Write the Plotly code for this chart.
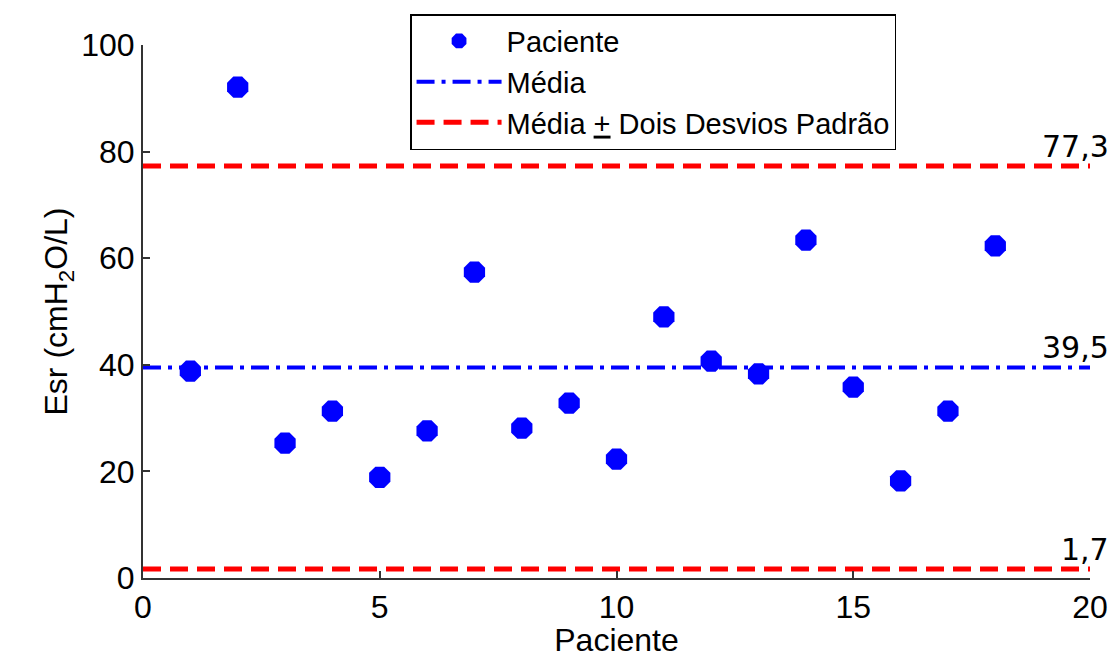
import plotly.graph_objects as go

# Patient values (Esr)
pacientes = list(range(1, 19))
esr = [38.8, 92.1, 25.3, 31.3, 18.9, 27.6, 57.4, 28.1, 32.8,
       22.3, 49.0, 40.7, 38.3, 63.4, 35.8, 18.2, 31.3, 62.3]

media = 39.5
limite_sup = 77.3
limite_inf = 1.7
x_range = [0, 20]

fig = go.Figure()

fig.add_trace(go.Scatter(
    x=pacientes, y=esr, mode="markers", name="Paciente",
    marker=dict(symbol="octagon", size=23, color="#0000FF",
                line=dict(width=0)),
))
fig.add_trace(go.Scatter(
    x=x_range, y=[media, media], mode="lines", name="Média",
    line=dict(color="#0000FF", width=4, dash="18px,7px,4px,7px"),
))
fig.add_trace(go.Scatter(
    x=x_range, y=[limite_sup, limite_sup], mode="lines",
    name="Média <u>+</u> Dois Desvios Padrão",
    line=dict(color="#FF0000", width=5, dash="18px,9px"),
))
fig.add_trace(go.Scatter(
    x=x_range, y=[limite_inf, limite_inf], mode="lines", showlegend=False,
    line=dict(color="#FF0000", width=5, dash="18px,9px"),
))

for val in [limite_sup, media, limite_inf]:
    fig.add_annotation(
        x=20, y=val, xref="x", yref="y", text=f"{val:.1f}".replace(".", ","),
        showarrow=False, xanchor="right", yanchor="bottom",
        xshift=21, yshift=0,
        font=dict(family="DejaVu Sans", size=30, color="black"),
    )

axis_common = dict(
    showline=True, linecolor="#333333", linewidth=2, mirror=False,
    ticks="inside", ticklen=7, tickwidth=1.5, tickcolor="#333333",
    showgrid=False, zeroline=False, automargin=False,
    tickfont=dict(family="Liberation Sans", size=32, color="black"),
)

fig.update_xaxes(range=x_range, tickvals=[0, 5, 10, 15, 20],
                 title=dict(text="Paciente", standoff=6,
                            font=dict(family="Liberation Sans", size=32, color="black")),
                 **axis_common)
fig.update_yaxes(range=[0, 100], tickvals=[0, 20, 40, 60, 80, 100],
                 title=dict(text="Esr (cmH<sub>2</sub>O/L)", standoff=4,
                            font=dict(family="Liberation Sans", size=32, color="black")),
                 **axis_common)

fig.update_layout(
    width=1114, height=658,
    margin=dict(l=143, r=24, t=45, b=80, autoexpand=False),
    paper_bgcolor="white", plot_bgcolor="white",
    legend=dict(
        x=0.282, y=1.058, xanchor="left", yanchor="top",
        bgcolor="white", bordercolor="black", borderwidth=1.5,
        font=dict(family="Liberation Sans", size=29, color="black"),
        itemwidth=85, tracegroupgap=0,
    ),
)

fig.write_html("out.html")
